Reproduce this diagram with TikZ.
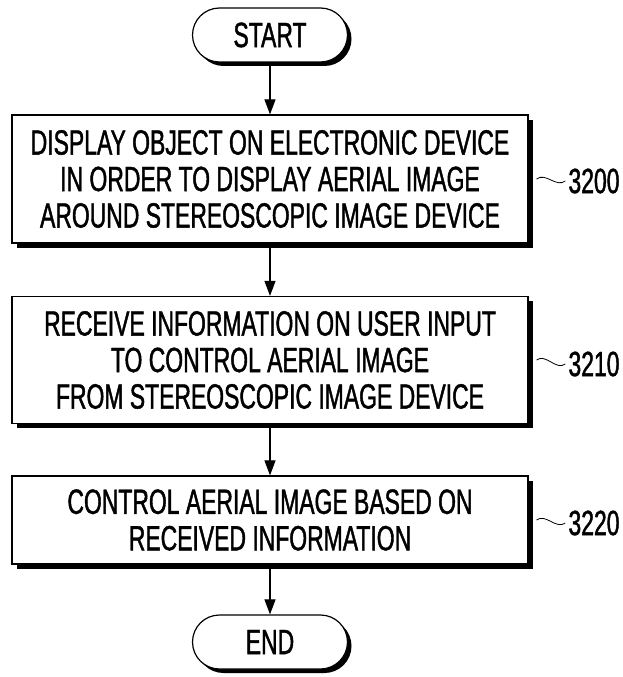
\documentclass[tikz,border=0pt]{standalone}
\usepackage{fontspec}
\setmainfont{Liberation Sans}[FakeStretch=0.655, FakeBold=1.2]
\usetikzlibrary{positioning, arrows.meta, shadows}

\begin{document}
\begin{tikzpicture}[x=1pt, y=-1pt,
      term/.style={rectangle, rounded corners=27pt, draw, line width=1.2pt, fill=white, minimum width=155pt, minimum height=54pt, font=\fontsize{35}{37}\selectfont, drop shadow={shadow xshift=4pt, shadow yshift=-4pt, fill=black, opacity=1}},
      box/.style={rectangle, draw, line width=1.2pt, fill=white, minimum width=516pt, align=center, inner sep=0pt, font=\fontsize{35}{36.5}\selectfont, drop shadow={shadow xshift=4.5pt, shadow yshift=-4.5pt, fill=black, opacity=1}},
      lbl/.style={inner sep=3pt, font=\fontsize{35}{37}\selectfont},
      arr/.style={-{Triangle[width=11pt, length=15pt]}, line width=1.1pt},
      wave/.style={line width=0.8pt}
    ]
      \useasboundingbox (0,0) rectangle (623,677);

      \node[term] (start) at (270,35) {START};
      \node[box, minimum height=128pt] (b1) at (270,179) {DISPLAY OBJECT ON ELECTRONIC DEVICE\\IN ORDER TO DISPLAY AERIAL IMAGE\\AROUND STEREOSCOPIC IMAGE DEVICE};
      \node[box, minimum height=127pt] (b2) at (270,360) {RECEIVE INFORMATION ON USER INPUT\\TO CONTROL AERIAL IMAGE\\FROM STEREOSCOPIC IMAGE DEVICE};
      \node[box, minimum height=88pt] (b3) at (270,520) {CONTROL AERIAL IMAGE BASED ON\\RECEIVED INFORMATION};
      \node[term] (end) at (270,642) {END};

      \draw[arr] (start) -- (start |- b1.north);
      \draw[arr] (b1) -- (b1 |- b2.north);
      \draw[arr] (b2) -- (b2 |- b3.north);
      \draw[arr] (b3.south -| end) -- (end);

      % step numbers
      \node[lbl] (l1) at (594,181) {3200};
      \node[lbl] (l2) at (594,364) {3210};
      \node[lbl] (l3) at (594,523) {3220};
      \foreach \b/\l in {b1/l1, b2/l2, b3/l3}
        \draw[wave] (\b.east) ++(8,0) .. controls +(9,-7) and +(-9,7) .. (\l.west);
    \end{tikzpicture}
\end{document}
